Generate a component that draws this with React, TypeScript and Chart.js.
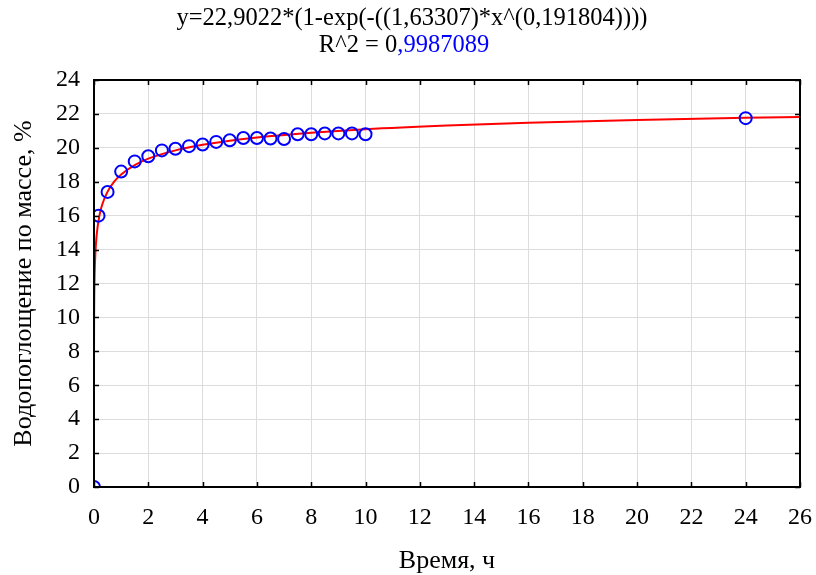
import React, { useEffect, useRef } from "react";
import { Chart, registerables } from "chart.js";

Chart.register(...registerables);

// Measured data (time, h ; water absorption, %)
const timeHours = [0, 0.167, 0.5, 1, 1.5, 2, 2.5, 3, 3.5, 4, 4.5, 5, 5.5, 6, 6.5, 7, 7.5, 8, 8.5, 9, 9.5, 10, 24];
const absorption = [0, 16.0, 17.4, 18.6, 19.2, 19.5, 19.85, 19.95, 20.1, 20.2, 20.35, 20.45, 20.58, 20.58, 20.55, 20.52, 20.8, 20.8, 20.85, 20.85, 20.85, 20.8, 21.75];

// Fitted curve values (model shown in the title)
const fitX = [0, 0.00001, 0.0001, 0.001, 0.005, 0.01, 0.02, 0.05, 0.1, 0.2, 0.3, 0.5, 0.75, 1, 1.5, 2, 3, 4, 5, 6, 8, 10, 13, 16, 20, 24, 26];
const fitY = [0, 3.76, 5.58, 8.07, 10.22, 11.24, 12.31, 13.77, 14.89, 16.0, 16.64, 17.42, 18.02, 18.43, 18.98, 19.36, 19.85, 20.18, 20.42, 20.61, 20.89, 21.1, 21.32, 21.48, 21.64, 21.77, 21.82];

const xTicks = [0, 2, 4, 6, 8, 10, 12, 14, 16, 18, 20, 22, 24, 26];
const yTicks = [0, 2, 4, 6, 8, 10, 12, 14, 16, 18, 20, 22, 24];

const titleLine1 = "y=22,9022*(1-exp(-((1,63307)*x^(0,191804))))";
const titleLine2a = "R^2 = 0";
const titleLine2b = ",9987089";
const xTitle = "Время, ч";
const yTitle = "Водопоглощение по массе, %";

const FONT = "'Liberation Serif', 'Times New Roman', serif";

const framePlugin = {
  id: "framePlugin",
  afterDraw(chart: any) {
    const { ctx, chartArea } = chart;
    const { left, right, top, bottom } = chartArea;
    const xs = chart.scales.x;
    const ys = chart.scales.y;
    ctx.save();
    ctx.strokeStyle = "#000";
    ctx.lineWidth = 2;
    ctx.strokeRect(left, top, right - left, bottom - top);
    ctx.lineWidth = 1.5;
    const tl = 5;
    ctx.beginPath();
    for (const v of xTicks) {
      const px = Math.round(xs.getPixelForValue(v)) + 0.5;
      ctx.moveTo(px, bottom);
      ctx.lineTo(px, bottom - tl);
      ctx.moveTo(px, top);
      ctx.lineTo(px, top + tl);
    }
    for (const v of yTicks) {
      const py = Math.round(ys.getPixelForValue(v)) + 0.5;
      ctx.moveTo(left, py);
      ctx.lineTo(left + tl, py);
      ctx.moveTo(right, py);
      ctx.lineTo(right - tl, py);
    }
    ctx.stroke();

    // Title
    ctx.font = `24.5px ${FONT}`;
    ctx.textBaseline = "middle";
    ctx.fillStyle = "#000";
    ctx.textAlign = "center";
    ctx.fillText(titleLine1, 412, 19);
    const wa = ctx.measureText(titleLine2a).width;
    const wb = ctx.measureText(titleLine2b).width;
    const start = 404 - (wa + wb) / 2;
    ctx.textAlign = "left";
    ctx.fillText(titleLine2a, start, 46);
    ctx.fillStyle = "#0000ff";
    ctx.fillText(titleLine2b, start + wa, 46);

    // Axis titles
    ctx.fillStyle = "#000";
    ctx.font = `26px ${FONT}`;
    ctx.textAlign = "center";
    ctx.fillText(xTitle, (left + right) / 2, 561);
    ctx.translate(24, (top + bottom) / 2);
    ctx.rotate(-Math.PI / 2);
    ctx.fillText(yTitle, 0, 0);
    ctx.restore();
  },
};

export default function App() {
  const ref = useRef<HTMLCanvasElement | null>(null);
  useEffect(() => {
    if (!ref.current) return;
    const chart = new Chart(ref.current, {
      type: "scatter",
      data: {
        datasets: [
          {
            label: "fit",
            data: fitX.map((x, i) => ({ x, y: fitY[i] })),
            showLine: true,
            borderColor: "#ff0000",
            borderWidth: 2,
            pointRadius: 0,
            cubicInterpolationMode: "monotone",
            clip: 0,
            order: 2,
          } as any,
          {
            label: "data",
            data: timeHours.map((x, i) => ({ x, y: absorption[i] })),
            showLine: false,
            borderColor: "#0000ff",
            backgroundColor: "rgba(0,0,0,0)",
            pointRadius: 6,
            pointBorderWidth: 2,
            pointHoverRadius: 6,
            clip: 0,
            order: 1,
          } as any,
        ],
      },
      options: {
        animation: false,
        responsive: false,
        devicePixelRatio: 1,
        events: [],
        layout: { padding: { left: 0, right: 16, top: 80, bottom: 0 } },
        plugins: {
          legend: { display: false },
          title: { display: false },
          tooltip: { enabled: false },
        },
        scales: {
          x: {
            type: "linear",
            min: 0,
            max: 26,
            afterBuildTicks: (s: any) => {
              s.ticks = xTicks.map((v) => ({ value: v }));
            },
            afterFit: (s: any) => {
              s.height = 88;
              s.paddingLeft = 0;
              s.paddingRight = 0;
            },
            grid: { color: "#dcdcdc", lineWidth: 1, drawTicks: false },
            border: { display: false },
            ticks: {
              font: { family: FONT, size: 24 },
              color: "#000",
              padding: 16,
              maxRotation: 0,
              autoSkip: false,
            },
            title: { display: false },
          },
          y: {
            type: "linear",
            min: 0,
            max: 24,
            afterBuildTicks: (s: any) => {
              s.ticks = yTicks.map((v) => ({ value: v }));
            },
            afterFit: (s: any) => {
              s.width = 94;
            },
            grid: { color: "#dcdcdc", lineWidth: 1, drawTicks: false },
            border: { display: false },
            ticks: {
              font: { family: FONT, size: 24 },
              color: "#000",
              padding: 14,
              autoSkip: false,
            },
            title: { display: false },
          },
        },
      },
      plugins: [framePlugin],
    } as any);
    return () => chart.destroy();
  }, []);
  return (
    <div style={{ position: "absolute", left: 0, top: 0, width: 816, height: 575, background: "#fff" }}>
      <canvas ref={ref} width={816} height={575} style={{ display: "block" }} />
    </div>
  );
}
